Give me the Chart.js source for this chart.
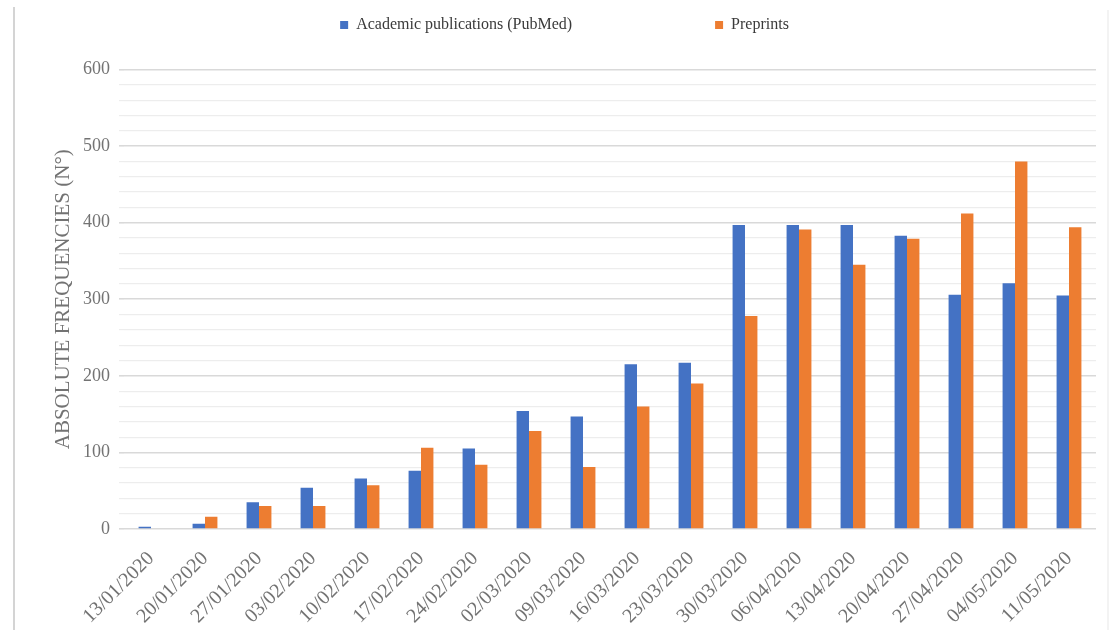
<!DOCTYPE html>
<html>
<head>
<meta charset="utf-8">
<title>Academic publications vs preprints</title>
<script src="https://cdn.jsdelivr.net/npm/chart.js@4.4.1/dist/chart.umd.min.js"></script>
<style>
  html, body { margin: 0; padding: 0; background: #ffffff; }
  #wrap { width: 1111px; height: 630px; }
</style>
</head>
<body>
<div id="wrap"><canvas id="chart" width="1111" height="630"></canvas></div>
<script>
// Weekly counts, 13 Jan – 11 May 2020
const weeks = ['13/01/2020', '20/01/2020', '27/01/2020', '03/02/2020', '10/02/2020', '17/02/2020',
  '24/02/2020', '02/03/2020', '09/03/2020', '16/03/2020', '23/03/2020', '30/03/2020',
  '06/04/2020', '13/04/2020', '20/04/2020', '27/04/2020', '04/05/2020', '11/05/2020'];
const pubmedCounts = [3, 7, 35, 54, 66, 76, 105, 154, 147, 215, 217, 397, 397, 397, 383, 306, 321, 305];
const preprintCounts = [0, 16, 30, 30, 57, 106, 84, 128, 81, 160, 190, 278, 391, 345, 379, 412, 480, 394];
const seriesNames = ['Academic publications (PubMed)', 'Preprints'];
const yMax = 600;
const yStep = 20;
const yLabelStep = 100;

const FONT = '"Liberation Serif", "Times New Roman", serif';
const PLOT_LEFT = 124;
const PLOT_TOP = 69.5;
const PLOT_BOTTOM = 529;
const PAD_LEFT = 33;
const LEGEND_GAP = 143;
const LEGEND_TEXT_Y = 25;

// Legend: wide gap between entries, kept in a short strip above the plot
const legendStrip = {
  id: 'legendStrip',
  beforeLayout(chart) {
    const lg = chart.legend;
    if (!lg || lg._stripPatched) return;
    const fit = lg.fit;
    lg.fit = function () { fit.call(this); this.height = PLOT_TOP; };
    lg._stripPatched = true;
  },
  afterLayout(chart) {
    const lg = chart.legend;
    if (!lg) return;
    // text rows start at top + padding; lift the box so the row sits near the top edge
    lg.top = LEGEND_TEXT_Y - LEGEND_GAP - 8;
    lg.bottom = PLOT_TOP;
    lg.height = lg.bottom - lg.top;
  }
};

// Thin frame lines at the page edges
const pageFrame = {
  id: 'pageFrame',
  beforeDraw(chart) {
    const ctx = chart.ctx;
    ctx.save();
    ctx.fillStyle = '#ffffff';
    ctx.fillRect(0, 0, chart.width, chart.height);
    ctx.strokeStyle = '#d4d4d4';
    ctx.lineWidth = 2;
    ctx.beginPath();
    ctx.moveTo(14, 7);
    ctx.lineTo(14, chart.height);
    ctx.stroke();
    ctx.strokeStyle = '#efefef';
    ctx.lineWidth = 1.5;
    ctx.beginPath();
    ctx.moveTo(1108, 10);
    ctx.lineTo(1108, chart.height);
    ctx.stroke();
    ctx.restore();
  }
};

new Chart(document.getElementById('chart'), {
  type: 'bar',
  data: {
    labels: weeks,
    datasets: [
      { label: seriesNames[0], data: pubmedCounts, backgroundColor: '#4472C4', borderWidth: 0 },
      { label: seriesNames[1], data: preprintCounts, backgroundColor: '#ED7D31', borderWidth: 0 }
    ]
  },
  options: {
    responsive: false,
    animation: false,
    layout: { padding: { left: PAD_LEFT, right: 15, top: 0, bottom: 0 } },
    datasets: { bar: { barPercentage: 1, categoryPercentage: 0.46 } },
    plugins: {
      tooltip: { enabled: false },
      legend: {
        position: 'top',
        align: 'center',
        labels: {
          boxWidth: 8,
          boxHeight: 8,
          padding: LEGEND_GAP,
          color: '#3a3a3a',
          font: { family: FONT, size: 16 }
        }
      }
    },
    scales: {
      x: {
        grid: { display: false },
        border: { display: false },
        ticks: {
          minRotation: 45,
          maxRotation: 45,
          autoSkip: false,
          padding: 10,
          color: '#737373',
          font: { family: FONT, size: 20 }
        },
        afterFit(scale) { scale.height = 630 - PLOT_BOTTOM; }
      },
      y: {
        min: 0,
        max: yMax,
        border: { display: false },
        grid: {
          color: c => (c.tick && c.tick.value % yLabelStep === 0) ? '#d9d9d9' : '#ededed',
          lineWidth: c => (c.tick && c.tick.value % yLabelStep === 0) ? 1.6 : 1.2,
          tickLength: 5
        },
        ticks: {
          stepSize: yStep,
          autoSkip: false,
          padding: 9,
          color: '#737373',
          font: { family: FONT, size: 18 },
          callback: v => (v % yLabelStep === 0 ? String(v) : '')
        },
        title: {
          display: true,
          text: 'ABSOLUTE FREQUENCIES (N°)',
          color: '#737373',
          font: { family: FONT, size: 21 },
          padding: { top: 18, bottom: 0 }
        },
        afterFit(scale) { scale.width = PLOT_LEFT - PAD_LEFT; }
      }
    }
  },
  plugins: [pageFrame, legendStrip]
});
</script>
</body>
</html>
